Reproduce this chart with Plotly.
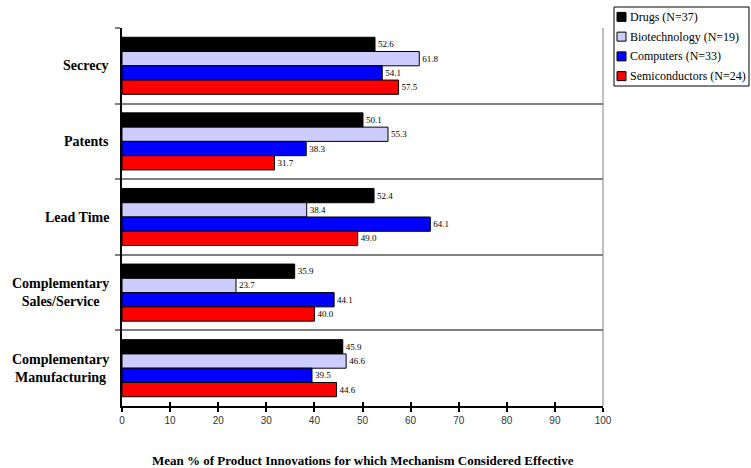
import plotly.graph_objects as go

# Appropriability mechanisms, product innovations
mechanisms = ["Secrecy", "Patents", "Lead Time",
              "Complementary Sales/Service", "Complementary Manufacturing"]
mechanism_labels = ["Secrecy", "Patents", "Lead Time",
                    "Complementary<br>Sales/Service", "Complementary<br>Manufacturing"]

industries = ["Drugs (N=37)", "Biotechnology (N=19)", "Computers (N=33)", "Semiconductors (N=24)"]
drugs = [52.6, 50.1, 52.4, 35.9, 45.9]
biotech = [61.8, 55.3, 38.4, 23.7, 46.6]
computers = [54.1, 38.3, 64.1, 44.1, 39.5]
semiconductors = [57.5, 31.7, 49.0, 40.0, 44.6]
series = [drugs, biotech, computers, semiconductors]
colors = ["#000000", "#CCCCFF", "#0000FF", "#FF0000"]

x_ticks = list(range(0, 101, 10))
x_title = "Mean % of Product Innovations for which Mechanism Considered Effective"

W, H = 751, 468
ML, MR, MT, MB = 122, 148, 28, 62
PW, PH = W - ML - MR, H - MT - MB


def px_x(px):
    return (px - ML) / PW


def px_y(py):
    return (H - MB - py) / PH


SERIF = "'Liberation Serif', 'Times New Roman', Times, serif"
SANS = "'Liberation Sans', Arial, sans-serif"

fig = go.Figure()
for name, vals, col in zip(industries, series, colors):
    fig.add_trace(go.Bar(
        y=mechanisms, x=vals, name=name, orientation="h",
        marker=dict(color=col, line=dict(color="#000000", width=1)),
        text=[f"{v:.1f}" for v in vals], textposition="outside",
        textfont=dict(family=SERIF, size=9, color="#000000"),
        cliponaxis=False, showlegend=False,
    ))

# overlay axis supplies the upper half of the crossing tick marks
fig.add_trace(go.Scatter(x=[None], y=[None], xaxis="x2", showlegend=False,
                         hoverinfo="skip"))

fig.update_layout(
    width=W, height=H,
    margin=dict(l=ML, r=MR, t=MT, b=MB),
    paper_bgcolor="#FFFFFF", plot_bgcolor="#FFFFFF",
    barmode="group", bargap=0.245, bargroupgap=0,
    xaxis=dict(range=[0, 100], tickvals=x_ticks, showgrid=False, zeroline=False,
               showline=True, linecolor="#000000", linewidth=2,
               ticks="outside", ticklen=4, tickwidth=1.5, tickcolor="#000000",
               tickfont=dict(family=SANS, size=10, color="#333333")),
    xaxis2=dict(range=[0, 100], tickvals=x_ticks, overlaying="x", anchor="y",
                side="bottom", showgrid=False, zeroline=False, showline=False,
                ticks="inside", ticklen=4, tickwidth=1.5, tickcolor="#000000",
                showticklabels=False),
    yaxis=dict(autorange="reversed", tickson="boundaries", showgrid=True,
               gridcolor="#808080", gridwidth=2, showline=True,
               linecolor="#000000", linewidth=1.5,
               ticks="outside", ticklen=5, tickcolor="#808080", tickwidth=2,
               showticklabels=False),
    font=dict(family=SERIF, color="#000000"),
)

# right frame edge
fig.add_shape(type="line", xref="paper", yref="paper", x0=1, x1=1, y0=0, y1=1,
              line=dict(color="#808080", width=1))

# category labels, centred multi-line
for cat, lab in zip(mechanisms, mechanism_labels):
    fig.add_annotation(xref="paper", yref="y", x=px_x(111), y=cat,
                       xanchor="right", yanchor="middle", align="center",
                       text=f"<b>{lab}</b>", showarrow=False,
                       font=dict(family=SERIF, size=14, color="#000000"))

# axis title
fig.add_annotation(xref="paper", yref="paper", x=0.5, y=px_y(460),
                   xanchor="center", yanchor="middle", showarrow=False,
                   text=f"<b>{x_title}</b>",
                   font=dict(family=SERIF, size=13, color="#000000"))

# legend box
lx0, lx1, ly0, ly1 = 614, 749, 7, 86
fig.add_shape(type="rect", xref="paper", yref="paper",
              x0=px_x(lx0), x1=px_x(lx1), y0=px_y(ly1), y1=px_y(ly0),
              line=dict(color="#000000", width=1), fillcolor="#FFFFFF")
row_h = (ly1 - ly0) / 4
for i, (name, col) in enumerate(zip(industries, colors)):
    cy = ly0 + row_h * (i + 0.5)
    fig.add_shape(type="rect", xref="paper", yref="paper",
                  x0=px_x(617), x1=px_x(626), y0=px_y(cy + 4.5), y1=px_y(cy - 4.5),
                  line=dict(color="#000000", width=1), fillcolor=col)
    fig.add_annotation(xref="paper", yref="paper", x=px_x(628), y=px_y(cy),
                       xanchor="left", yanchor="middle", showarrow=False,
                       text=name, font=dict(family=SERIF, size=12, color="#000000"))

fig.write_html("out.html")
